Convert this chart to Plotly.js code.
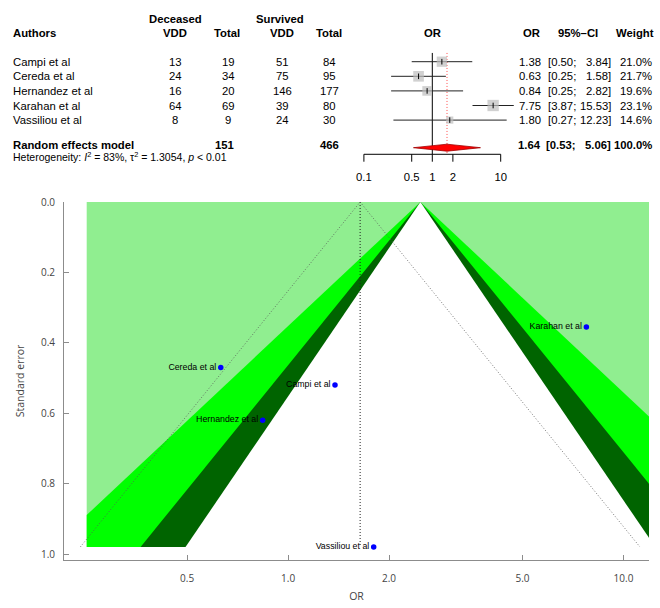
<!DOCTYPE html>
<html>
<head>
<meta charset="utf-8">
<script src="https://cdn.plot.ly/plotly-3.0.1.min.js"></script>
<style>
  html, body { margin: 0; padding: 0; background: #fff; }
  #chart { width: 660px; height: 608px; }
</style>
</head>
<body>
<div id="chart"></div>
<script>
// Study data
const studies = ['Campi et al', 'Cereda et al', 'Hernandez et al', 'Karahan et al', 'Vassiliou et al'];
const decEvents = [13, 24, 16, 64, 8];
const decTotal = [19, 34, 20, 69, 9];
const survEvents = [51, 75, 146, 39, 24];
const survTotal = [84, 95, 177, 80, 30];
const orVal = [1.38, 0.63, 0.84, 7.75, 1.80];
const ciLow = [0.50, 0.25, 0.25, 3.87, 0.27];
const ciHigh = [3.84, 1.58, 2.82, 15.53, 12.23];
const weights = [21.0, 21.7, 19.6, 23.1, 14.6];

// Random effects summary
const pooledOR = 1.64;
const pooledLow = 0.53;
const pooledHigh = 5.06;
const decTotalSum = 151;
const survTotalSum = 466;
const hetI2 = 83;
const hetTau2 = 1.3054;
const hetP = '&lt; 0.01';

// Funnel plot
const funnelSE = [0.52, 0.47, 0.62, 0.355, 0.98];
const contourCenterOR = 2.48;
const contourZ = [2.576, 1.96, 1.645];
const contourColors = ['#00ff00', '#006400', '#ffffff'];
const shadeRange = [0.251, 12];
const forestTicks = [0.1, 0.5, 1, 2, 10];
const funnelTicks = [0.5, 1, 2, 5, 10];
const funnelTickText = ['0.5', '1.0', '2.0', '5.0', '10.0'];
const seTicks = [0, 0.2, 0.4, 0.6, 0.8, 1.0];

const W = 660, H = 608;
const px = v => v / W;
const rows = studies.map((s, i) => i + 1);
const rowRE = 6.72, rowDiamond = 6.89, rowHet = 7.5;
const rowAxis = 7.342, rowTickEnd = 7.85, rowTickLab = 8.97;
const forestFont = 'Liberation Sans, Arial, sans-serif';
const fs = 11.3;

const traces = [];

// ---- forest plot ----
traces.push({ x: [1, 1], y: [0.4, rowAxis], mode: 'lines', line: { color: '#000', width: 1 },
  xaxis: 'x', yaxis: 'y', hoverinfo: 'skip' });
traces.push({ x: [pooledOR, pooledOR], y: [0.4, rowAxis], mode: 'lines',
  line: { color: '#ff4d4d', width: 1, dash: '1px,2px' }, xaxis: 'x', yaxis: 'y', hoverinfo: 'skip' });

const ciX = [], ciY = [];
orVal.forEach((v, i) => { ciX.push(ciLow[i], ciHigh[i], null); ciY.push(rows[i], rows[i], null); });
traces.push({ x: ciX, y: ciY, mode: 'lines', line: { color: '#222', width: 1 },
  xaxis: 'x', yaxis: 'y', hoverinfo: 'skip' });

traces.push({ x: orVal, y: rows, mode: 'markers',
  marker: { symbol: 'square', color: '#bdbdbd', size: weights.map(w => w * 0.49), line: { width: 0 } },
  xaxis: 'x', yaxis: 'y', hoverinfo: 'skip' });
traces.push({ x: orVal, y: rows, mode: 'markers',
  marker: { symbol: 'line-ns', size: 4, line: { color: '#000', width: 1 } },
  xaxis: 'x', yaxis: 'y', hoverinfo: 'skip' });

// diamond
const dh = 0.24;
traces.push({ x: [pooledLow, pooledOR, pooledHigh, pooledOR, pooledLow],
  y: [rowDiamond, rowDiamond - dh, rowDiamond, rowDiamond + dh, rowDiamond],
  mode: 'lines', fill: 'toself', fillcolor: '#ff0000', line: { color: '#a00000', width: 0.8 },
  xaxis: 'x', yaxis: 'y', hoverinfo: 'skip' });

// forest x axis (R style, line only between outer ticks)
traces.push({ x: [forestTicks[0], forestTicks[forestTicks.length - 1]], y: [rowAxis, rowAxis],
  mode: 'lines', line: { color: '#000', width: 1 }, xaxis: 'x', yaxis: 'y', hoverinfo: 'skip' });
const tkX = [], tkY = [];
forestTicks.forEach(t => { tkX.push(t, t, null); tkY.push(rowAxis, rowTickEnd, null); });
traces.push({ x: tkX, y: tkY, mode: 'lines', line: { color: '#000', width: 1 },
  xaxis: 'x', yaxis: 'y', hoverinfo: 'skip' });
traces.push({ x: forestTicks, y: forestTicks.map(() => rowTickLab), mode: 'text',
  text: forestTicks.map(String), textfont: { family: forestFont, size: fs, color: '#000' },
  xaxis: 'x', yaxis: 'y', hoverinfo: 'skip', cliponaxis: false });

// ---- funnel plot ----
const lnC = Math.log(contourCenterOR);
const sMax = Math.max(...funnelSE);
const L = Math.log(shadeRange[0]), R = Math.log(shadeRange[1]);

traces.push({ x: [L, R, R, L, L].map(Math.exp), y: [0, 0, sMax, sMax, 0], mode: 'lines',
  fill: 'toself', fillcolor: '#90ee90', line: { width: 0 }, xaxis: 'x2', yaxis: 'y2', hoverinfo: 'skip' });

contourZ.forEach((z, k) => {
  const xs = [lnC], ys = [0];
  if (lnC + z * sMax <= R) { xs.push(lnC + z * sMax); ys.push(sMax); }
  else { xs.push(R, R); ys.push((R - lnC) / z, sMax); }
  if (lnC - z * sMax >= L) { xs.push(lnC - z * sMax); ys.push(sMax); }
  else { xs.push(L, L); ys.push(sMax, (lnC - L) / z); }
  xs.push(lnC); ys.push(0);
  traces.push({ x: xs.map(Math.exp), y: ys, mode: 'lines', fill: 'toself',
    fillcolor: contourColors[k], line: { width: 0 }, xaxis: 'x2', yaxis: 'y2', hoverinfo: 'skip' });
});

const lnP = Math.log(pooledOR);
traces.push({ x: [pooledOR, pooledOR], y: [0, sMax], mode: 'lines',
  line: { color: '#222', width: 1, dash: '1px,2px' }, xaxis: 'x2', yaxis: 'y2', hoverinfo: 'skip' });
traces.push({ x: [Math.exp(lnP - 1.96 * sMax), pooledOR, Math.exp(lnP + 1.96 * sMax)], y: [sMax, 0, sMax],
  mode: 'lines', line: { color: '#555', width: 0.8, dash: '1px,2px' }, xaxis: 'x2', yaxis: 'y2', hoverinfo: 'skip' });

traces.push({ x: orVal, y: funnelSE, mode: 'markers+text', text: studies, textposition: 'middle left',
  textfont: { family: forestFont, size: 8.8, color: '#000' },
  marker: { color: '#0000ff', size: 5.5 }, xaxis: 'x2', yaxis: 'y2', hoverinfo: 'skip' });

// ---- table text ----
const ann = [];
function txt(x, row, text, anchor, opts) {
  opts = opts || {};
  ann.push({ x: px(x), y: row, xref: 'paper', yref: 'y', text: text, showarrow: false,
    xanchor: anchor, yanchor: 'middle', borderpad: 0,
    font: { family: forestFont, size: opts.size || fs, color: '#000' } });
}
const b = s => '<b>' + s + '</b>';

txt(175, -1.9, b('Deceased'), 'center');
txt(280, -1.9, b('Survived'), 'center');
txt(12, -1, b('Authors'), 'left');
txt(175, -1, b('VDD'), 'center');
txt(227, -1, b('Total'), 'center');
txt(282, -1, b('VDD'), 'center');
txt(329, -1, b('Total'), 'center');
txt(433, -1, b('OR'), 'center');
txt(531, -1, b('OR'), 'center');
txt(578, -1, b('95%\u2013CI'), 'center');
txt(655, -1, b('Weight'), 'right');

studies.forEach((s, i) => {
  const r = rows[i];
  txt(12, r, s, 'left');
  txt(175, r, String(decEvents[i]), 'center');
  txt(228, r, String(decTotal[i]), 'center');
  txt(282, r, String(survEvents[i]), 'center');
  txt(329, r, String(survTotal[i]), 'center');
  txt(542, r, orVal[i].toFixed(2), 'right');
  txt(577, r, '[' + ciLow[i].toFixed(2) + ';', 'right');
  txt(612, r, ciHigh[i].toFixed(2) + ']', 'right');
  txt(653, r, weights[i].toFixed(1) + '%', 'right');
});

txt(12, rowRE, b('Random effects model'), 'left');
txt(225, rowRE, b(String(decTotalSum)), 'center');
txt(329, rowRE, b(String(survTotalSum)), 'center');
txt(542, rowRE, b(pooledOR.toFixed(2)), 'right');
txt(577, rowRE, b('[' + pooledLow.toFixed(2) + ';'), 'right');
txt(612, rowRE, b(pooledHigh.toFixed(2) + ']'), 'right');
txt(653, rowRE, b('100.0%'), 'right');
txt(12, rowHet, 'Heterogeneity: <i>I</i><sup>2</sup> = ' + hetI2 + '%, \u03c4<sup>2</sup> = ' + hetTau2 +
  ', <i>p</i> ' + hetP, 'left', { size: 10.5 });

// ---- layout ----
const fDom = [350, 530];
const toLog = p => (p - 432.3) / 68.4;
const axisGrey = '#8c8c8c';
const tickFont = { family: 'Open Sans, sans-serif', size: 10, color: '#444' };

const layout = {
  width: W, height: H,
  margin: { l: 0, r: 0, t: 0, b: 0 },
  paper_bgcolor: '#fff', plot_bgcolor: 'rgba(0,0,0,0)',
  showlegend: false,
  xaxis: { type: 'log', domain: [px(fDom[0]), px(fDom[1])], range: [toLog(fDom[0]), toLog(fDom[1])],
    visible: false, fixedrange: true },
  yaxis: { domain: [(H - 190) / H, 1], range: [1 + (190 - 61.7) / 14.6, 1 - 61.7 / 14.6],
    visible: false, fixedrange: true },
  xaxis2: { type: 'log', domain: [px(64), px(649)], range: [-0.668, 1.076], anchor: 'y2',
    showline: true, linecolor: axisGrey, linewidth: 1, showgrid: false, zeroline: false,
    ticks: 'inside', ticklen: 5, tickcolor: axisGrey, tickvals: funnelTicks, ticktext: funnelTickText,
    tickfont: tickFont, ticklabelstandoff: 9,
    title: { text: 'OR', font: { family: 'Open Sans, sans-serif', size: 10.5, color: '#444' }, standoff: 8 } },
  yaxis2: { domain: [(H - 560) / H, (H - 202) / H], range: [1.017, 0], anchor: 'x2',
    showline: true, linecolor: axisGrey, linewidth: 1, showgrid: false, zeroline: false,
    ticks: 'inside', ticklen: 5, tickcolor: axisGrey, tickvals: seTicks, tickformat: '.1f',
    tickfont: tickFont, ticklabelstandoff: 6,
    title: { text: 'Standard error', font: { family: 'Open Sans, sans-serif', size: 10.5, color: '#444' }, standoff: 14 } },
  annotations: ann
};

Plotly.newPlot('chart', traces, layout, { staticPlot: true, displayModeBar: false });
</script>
</body>
</html>
